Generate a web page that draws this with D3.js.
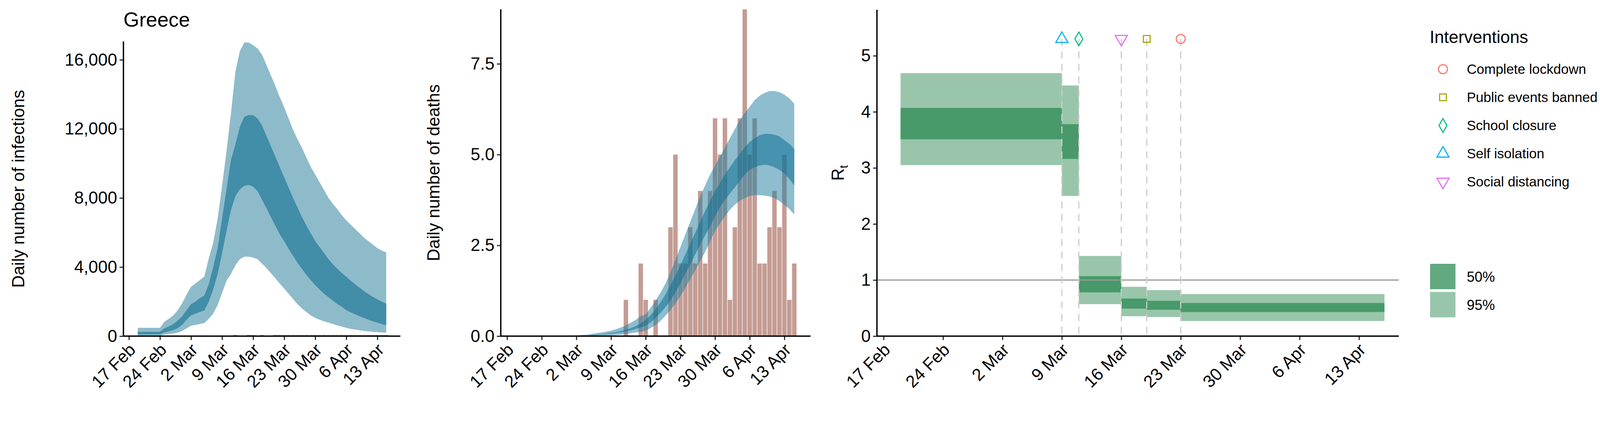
<!DOCTYPE html>
<html><head><meta charset="utf-8">
<script src="https://cdn.jsdelivr.net/npm/d3@7"></script>
<style>body{margin:0;background:#fff;overflow:hidden}svg{display:block}text{font-family:"Liberation Sans",Arial,sans-serif}</style>
</head><body><svg id="c" width="4200" height="1113"></svg>
<script>
// daily series, 19 Feb .. 15 Apr 2020
var start = new Date(2020,1,19);
var inf95hi = [480,480,480,480,480,480,830,1000,1200,1500,1900,2400,2850,3050,3250,3450,4500,5400,6800,8700,10700,12900,15300,16500,17000,17000,16850,16650,16300,15700,15100,14500,13850,13250,12600,11950,11400,10900,10350,9800,9350,8900,8450,8000,7650,7350,7000,6700,6450,6200,5950,5700,5500,5300,5100,4950,4850];
var inf50hi = [250,250,250,250,250,250,450,560,700,900,1150,1500,1850,2000,2200,2350,3000,4000,5100,6800,8500,10200,11100,12100,12700,12800,12800,12600,12200,11600,11000,10400,9800,9200,8600,8000,7450,6900,6400,5950,5500,5150,4800,4450,4150,3900,3650,3440,3200,3000,2800,2600,2430,2270,2130,2000,1870];
var inf50lo = [100,100,100,100,100,100,220,280,350,450,650,950,1200,1300,1400,1480,2000,2700,3600,4800,6100,7300,8100,8500,8700,8750,8650,8400,7900,7400,6900,6400,5900,5500,5050,4650,4250,3900,3550,3250,2950,2700,2450,2250,2050,1850,1700,1500,1380,1260,1150,1050,950,860,780,700,620];
var inf95lo = [30,30,30,30,30,30,90,120,150,200,300,450,600,650,700,760,1000,1300,1800,2500,3200,3600,4100,4450,4600,4600,4550,4450,4200,3950,3650,3350,3050,2750,2450,2150,1850,1600,1400,1200,1050,950,850,780,700,620,550,480,420,380,340,300,270,250,230,210,200];

var z11 = [0,0,0,0,0,0,0,0,0,0,0];
var d95hi = z11.concat([0.01,0.02,0.03,0.04,0.06,0.08,0.1,0.12,0.15,0.19,0.24,0.3,0.37,0.45,0.55,0.6,0.78,0.98,1.2,1.45,1.75,2.1,2.45,2.8,3.15,3.5,3.85,4.15,4.45,4.7,4.95,5.2,5.45,5.7,5.95,6.15,6.32,6.5,6.62,6.7,6.75,6.75,6.72,6.65,6.55,6.4]);
var d50hi = z11.concat([0.005,0.01,0.015,0.02,0.03,0.04,0.05,0.07,0.09,0.11,0.14,0.18,0.22,0.28,0.35,0.45,0.58,0.74,0.93,1.15,1.4,1.67,1.95,2.25,2.55,2.85,3.15,3.45,3.72,4.0,4.22,4.45,4.65,4.85,5.02,5.2,5.35,5.45,5.53,5.57,5.57,5.55,5.5,5.4,5.3,5.15]);
var d50lo = z11.concat([0,0.005,0.01,0.015,0.02,0.03,0.04,0.05,0.065,0.08,0.1,0.13,0.16,0.2,0.24,0.29,0.38,0.5,0.64,0.8,0.98,1.2,1.45,1.72,1.98,2.25,2.52,2.78,3.02,3.3,3.55,3.75,3.93,4.1,4.28,4.45,4.58,4.65,4.7,4.72,4.7,4.65,4.58,4.48,4.33,4.15]);
var d95lo = z11.concat([0,0,0,0,0,0.005,0.01,0.015,0.02,0.03,0.04,0.06,0.08,0.1,0.12,0.15,0.22,0.31,0.42,0.56,0.72,0.9,1.1,1.33,1.57,1.82,2.07,2.32,2.6,2.9,3.1,3.3,3.48,3.62,3.73,3.8,3.86,3.88,3.88,3.87,3.85,3.8,3.72,3.62,3.5,3.35]);

var deathDates = ["2020-03-12","2020-03-15","2020-03-16","2020-03-18","2020-03-21","2020-03-22","2020-03-23","2020-03-24","2020-03-25","2020-03-26","2020-03-27","2020-03-28","2020-03-29","2020-03-30","2020-03-31","2020-04-01","2020-04-02","2020-04-03","2020-04-04","2020-04-05","2020-04-06","2020-04-07","2020-04-08","2020-04-09","2020-04-10","2020-04-11","2020-04-12","2020-04-13","2020-04-14","2020-04-15"];
var deaths = [1,2,1,1,3,5,2,2,3,2,4,2,4,6,5,6,1,3,6,9,5,6,2,2,3,4,3,5,1,2];

var rtStart = ["2020-02-19","2020-03-09","2020-03-11","2020-03-16","2020-03-19","2020-03-23"];
var rtEnd   = ["2020-03-09","2020-03-11","2020-03-16","2020-03-19","2020-03-23","2020-04-16"];
var rt95hi = [4.69,4.47,1.43,0.88,0.82,0.75];
var rt50hi = [4.07,3.78,1.07,0.67,0.63,0.59];
var rt50lo = [3.51,3.16,0.78,0.49,0.47,0.43];
var rt95lo = [3.05,2.50,0.57,0.355,0.34,0.27];

var intNames = ["Complete lockdown","Public events banned","School closure","Self isolation","Social distancing"];
var intDates = ["2020-03-23","2020-03-19","2020-03-11","2020-03-09","2020-03-16"];
var intColors = ["#F8766D","#A3A500","#00BF7D","#00B0F6","#E76BF3"];
var intShapes = [d3.symbolCircle,d3.symbolSquare,d3.symbolDiamond,d3.symbolTriangle,"down"];

var tickDates = ["2020-02-17","2020-02-24","2020-03-02","2020-03-09","2020-03-16","2020-03-23","2020-03-30","2020-04-06","2020-04-13"].map(function(s){return d3.timeParse("%Y-%m-%d")(s);});
var parse = d3.timeParse("%Y-%m-%d");
var days = inf95hi.map(function(d,i){return d3.timeDay.offset(start,i);});

var svg = d3.select('#c');
var fmtDate = function(d){return d.getDate()+" "+d3.timeFormat("%b")(d);};
var y0 = 860;

function axes(x, y, left, right, top, yticks, yfmt){
  var g = svg.append('g');
  var xa = d3.axisBottom(x).tickValues(tickDates).tickFormat(fmtDate).tickSize(10).tickPadding(6);
  var gx = g.append('g').attr('transform','translate(0,'+y0+')').call(xa);
  gx.select('.domain').remove();
  gx.selectAll('line').attr('stroke','#333').attr('stroke-width',3);
  gx.selectAll('text').attr('font-size',44).attr('fill','#000').attr('text-anchor','end')
    .attr('transform','rotate(-45)').attr('dx','-0.3em').attr('dy','0.55em');
  var ya = d3.axisLeft(y).tickValues(yticks).tickFormat(yfmt).tickSize(10).tickPadding(6);
  var gy = g.append('g').attr('transform','translate('+left+',0)').call(ya);
  gy.select('.domain').remove();
  gy.selectAll('line').attr('stroke','#333').attr('stroke-width',3);
  gy.selectAll('text').attr('font-size',44).attr('fill','#000');
  g.append('line').attr('x1',left).attr('x2',right).attr('y1',y0).attr('y2',y0).attr('stroke','#000').attr('stroke-width',3.5);
  g.append('line').attr('x1',left).attr('x2',left).attr('y1',top).attr('y2',y0).attr('stroke','#000').attr('stroke-width',3.5);
}

function band(x,y,lo,hi,fill,op){
  var a = d3.area().x(function(d,i){return x(days[i]);}).y0(function(d,i){return y(lo[i]);}).y1(function(d){return y(d);});
  svg.append('path').datum(hi).attr('d',a).attr('fill',fill).attr('fill-opacity',op);
}

// panel 1: infections
var x1 = d3.scaleTime().domain([tickDates[0],tickDates[8]]).range([330,966]);
var y1 = d3.scaleLinear().domain([0,16000]).range([y0,153]);
svg.selectAll('.b1').data(deaths).enter().append('rect')
  .attr('x',function(d,i){return x1(parse(deathDates[i]))-5;}).attr('width',10)
  .attr('y',function(d){return y1(d)-3;}).attr('height',function(d){return y0-y1(d)+3;}).attr('fill','#C49C94');
band(x1,y1,inf95lo,inf95hi,'#8EBBCA',1);
band(x1,y1,inf50lo,inf50hi,'#428DA8',1);
axes(x1,y1,316,1025,106,[0,4000,8000,12000,16000],d3.format(','));
svg.append('text').attr('x',316).attr('y',68).attr('font-size',52).text('Greece');
svg.append('text').attr('transform','translate(62,'+((106+y0)/2)+') rotate(-90)').attr('text-anchor','middle').attr('font-size',44).text('Daily number of infections');

// panel 2: deaths
var x2 = d3.scaleTime().domain([tickDates[0],tickDates[8]]).range([1298,2008]);
var y2 = d3.scaleLinear().domain([0,9]).range([y0,24]);
svg.selectAll('.b2').data(deaths).enter().append('rect')
  .attr('x',function(d,i){return x2(parse(deathDates[i]))-5.7;}).attr('width',11.4)
  .attr('y',function(d){return y2(d);}).attr('height',function(d){return y0-y2(d);}).attr('fill','#C49C94');
band(x2,y2,d95lo,d95hi,'#1B7B9E',0.5);
band(x2,y2,d50lo,d50hi,'#0E6F93',0.55);
axes(x2,y2,1282,2075,24,[0,2.5,5,7.5],d3.format('.1f'));
svg.append('text').attr('transform','translate(1125,'+((24+y0)/2)+') rotate(-90)').attr('text-anchor','middle').attr('font-size',44).text('Daily number of deaths');

// panel 3: Rt
var x3 = d3.scaleTime().domain([tickDates[0],tickDates[8]]).range([2262,3479]);
var y3 = d3.scaleLinear().domain([0,5.82]).range([y0,25]);
svg.selectAll('.r95').data(rt95hi).enter().append('rect')
  .attr('x',function(d,i){return x3(parse(rtStart[i]));})
  .attr('width',function(d,i){return x3(parse(rtEnd[i]))-x3(parse(rtStart[i]));})
  .attr('y',function(d){return y3(d);}).attr('height',function(d,i){return y3(rt95lo[i])-y3(d);}).attr('fill','#99C6AA');
svg.selectAll('.r50').data(rt50hi).enter().append('rect')
  .attr('x',function(d,i){return x3(parse(rtStart[i]));})
  .attr('width',function(d,i){return x3(parse(rtEnd[i]))-x3(parse(rtStart[i]));})
  .attr('y',function(d){return y3(d);}).attr('height',function(d,i){return y3(rt50lo[i])-y3(d);}).attr('fill','#489A6A');
svg.append('line').attr('x1',2245).attr('x2',3581).attr('y1',y3(1)).attr('y2',y3(1)).attr('stroke','#999').attr('stroke-width',3);
intDates.forEach(function(s,i){
  var xx = x3(parse(s));
  svg.append('line').attr('x1',xx).attr('x2',xx).attr('y1',y3(5.3)).attr('y2',y0).attr('stroke','#ccc').attr('stroke-width',3).attr('stroke-dasharray','18,14');
});
function marker(g,i,cx,cy){
  var p;
  if(intShapes[i]==="down") p = d3.symbol().type(d3.symbolTriangle).size(420)();
  else p = d3.symbol().type(intShapes[i]).size(intShapes[i]===d3.symbolDiamond?360:(intShapes[i]===d3.symbolSquare?300:420))();
  g.append('path').attr('d',p).attr('transform','translate('+cx+','+cy+')'+(intShapes[i]==="down"?' rotate(180)':''))
    .attr('fill','none').attr('stroke',intColors[i]).attr('stroke-width',2.8);
}
intDates.forEach(function(s,i){ marker(svg,i,x3(parse(s)),y3(5.3)); });
axes(x3,y3,2245,3581,25,[0,1,2,3,4,5],d3.format('d'));
var rl = svg.append('text').attr('transform','translate(2160,'+((25+y0)/2)+') rotate(-90)').attr('text-anchor','middle').attr('font-size',44);
rl.append('tspan').text('R');
rl.append('tspan').attr('font-size',30).attr('dy',10).text('t');

// legend
var lg = svg.append('g');
lg.append('text').attr('x',3660).attr('y',110).attr('font-size',44).text('Interventions');
intNames.forEach(function(n,i){
  var cy = 177+i*72;
  marker(lg,i,3694,cy);
  lg.append('text').attr('x',3755).attr('y',cy).attr('dy','0.35em').attr('font-size',35).text(n);
});
var lk = ["50%","95%"], lc = ["#62A982","#99C6AA"];
lk.forEach(function(n,i){
  var ty = 675+i*72;
  lg.append('rect').attr('x',3661).attr('y',ty).attr('width',65).attr('height',65).attr('fill',lc[i]);
  lg.append('text').attr('x',3755).attr('y',ty+33).attr('dy','0.35em').attr('font-size',36).text(n);
});
</script></body></html>
